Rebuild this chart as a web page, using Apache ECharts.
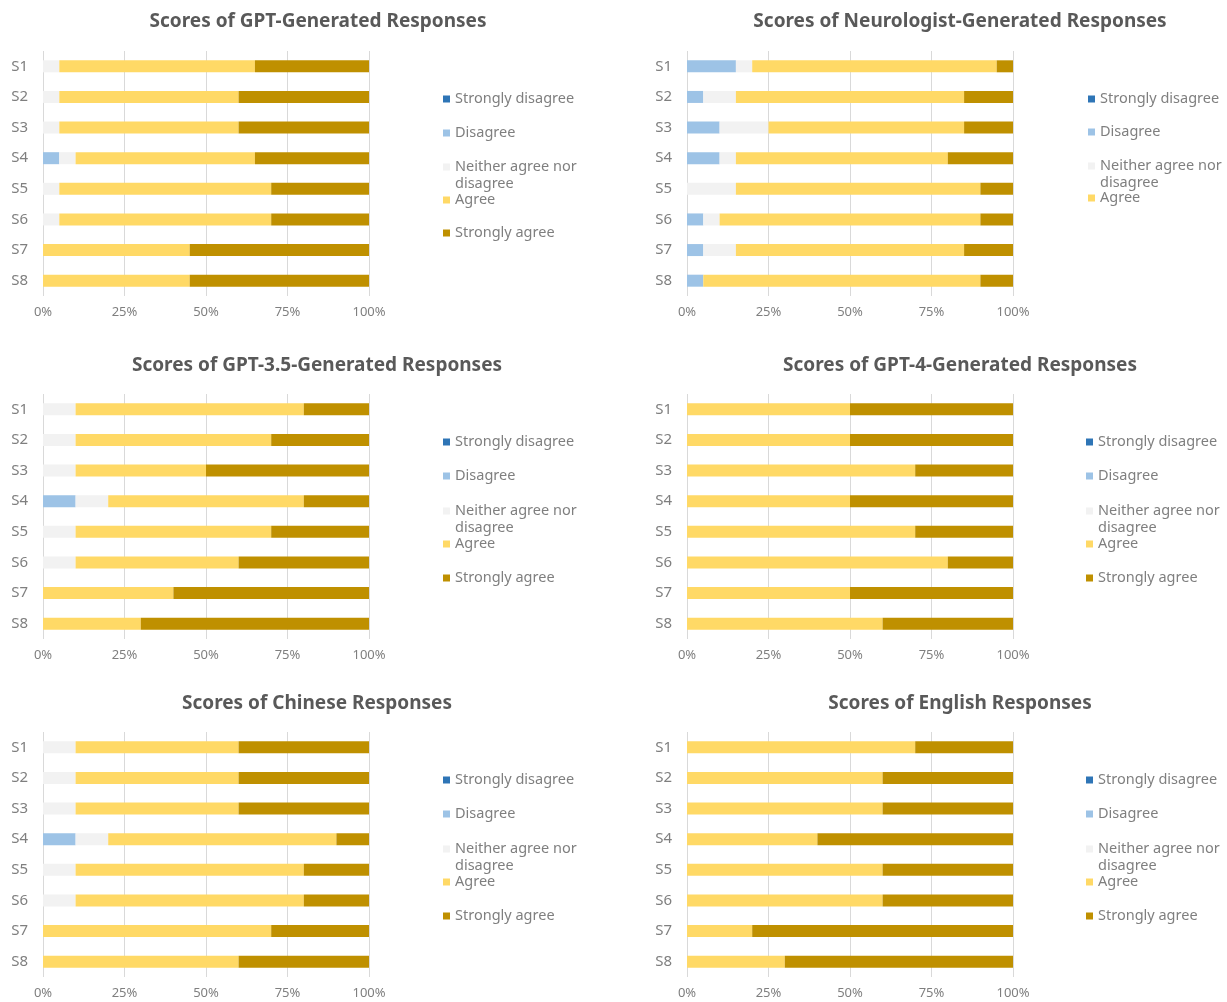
<!DOCTYPE html>
<html><head><meta charset="utf-8">
<script src="https://cdn.jsdelivr.net/npm/echarts@6/dist/echarts.min.js"></script>
<style>html,body{margin:0;padding:0;background:#fff}#c{width:1227px;height:1002px}</style>
</head><body><div id="c"></div>
<script>
const categories = ['S1','S2','S3','S4','S5','S6','S7','S8'];
const seriesNames = ['Strongly disagree','Disagree','Neither agree nor disagree','Agree','Strongly agree'];
const xTicks = [0,25,50,75,100];
const titles = ['Scores of GPT-Generated Responses','Scores of Neurologist-Generated Responses','Scores of GPT-3.5-Generated Responses','Scores of GPT-4-Generated Responses','Scores of Chinese Responses','Scores of English Responses'];

// GPT-Generated
const gptSD = [0,0,0,0,0,0,0,0];
const gptD  = [0,0,0,5,0,0,0,0];
const gptN  = [5,5,5,5,5,5,0,0];
const gptA  = [60,55,55,55,65,65,45,45];
const gptSA = [35,40,40,35,30,30,55,55];
// Neurologist-Generated
const neuSD = [0,0,0,0,0,0,0,0];
const neuD  = [15,5,10,10,0,5,5,5];
const neuN  = [5,10,15,5,15,5,10,0];
const neuA  = [75,70,60,65,75,80,70,85];
const neuSA = [5,15,15,20,10,10,15,10];
// GPT-3.5
const g35SD = [0,0,0,0,0,0,0,0];
const g35D  = [0,0,0,10,0,0,0,0];
const g35N  = [10,10,10,10,10,10,0,0];
const g35A  = [70,60,40,60,60,50,40,30];
const g35SA = [20,30,50,20,30,40,60,70];
// GPT-4
const g4SD = [0,0,0,0,0,0,0,0];
const g4D  = [0,0,0,0,0,0,0,0];
const g4N  = [0,0,0,0,0,0,0,0];
const g4A  = [50,50,70,50,70,80,50,60];
const g4SA = [50,50,30,50,30,20,50,40];
// Chinese
const zhSD = [0,0,0,0,0,0,0,0];
const zhD  = [0,0,0,10,0,0,0,0];
const zhN  = [10,10,10,10,10,10,0,0];
const zhA  = [50,50,50,70,70,70,70,60];
const zhSA = [40,40,40,10,20,20,30,40];
// English
const enSD = [0,0,0,0,0,0,0,0];
const enD  = [0,0,0,0,0,0,0,0];
const enN  = [0,0,0,0,0,0,0,0];
const enA  = [70,60,60,40,60,60,20,30];
const enSA = [30,40,40,60,40,40,80,70];

const panelData = [
  [gptSD,gptD,gptN,gptA,gptSA],
  [neuSD,neuD,neuN,neuA,neuSA],
  [g35SD,g35D,g35N,g35A,g35SA],
  [g4SD,g4D,g4N,g4A,g4SA],
  [zhSD,zhD,zhN,zhA,zhSA],
  [enSD,enD,enN,enA,enSA]
];

const colors = ['#2E75B6','#9DC3E6','#F2F2F2','#FFD966','#BF9000'];
const FONT = 'Noto Sans';
const TITLE_C = '#595959';
const TXT = '#7F7F7F';

// layout
const layout = [
  {cx:318, ty:20,  gl:43,  gt:51,  lx:443,  ly:[98,132,165,199,232], items:5},
  {cx:960, ty:20,  gl:687, gt:51,  lx:1088, ly:[98,131,164,197], items:4},
  {cx:317, ty:364, gl:43,  gt:394, lx:443,  ly:[441,475,509,543,577], items:5},
  {cx:960, ty:364, gl:687, gt:394, lx:1086, ly:[441,475,509,543,577], items:5},
  {cx:317, ty:702, gl:43,  gt:732, lx:443,  ly:[779,813,847,881,915], items:5},
  {cx:960, ty:702, gl:687, gt:732, lx:1086, ly:[779,813,847,881,915], items:5}
];

// tall icon: 7x7 square at top of a 7x24 box, so it lines up with the first text line
const TALL_ICON = 'path://M0,0H7V7H0Z M0,24H0.001V24.001H0Z';

const option = {animation:false, backgroundColor:'#fff', color:colors,
  title:[], grid:[], xAxis:[], yAxis:[], series:[], legend:[]};

layout.forEach((p,i)=>{
  option.title.push({text:titles[i], left:p.cx, top:p.ty-8, textAlign:'center', padding:0,
    textStyle:{fontFamily:FONT, fontSize:19, fontWeight:'bold', color:TITLE_C}});
  option.grid.push({left:p.gl, top:p.gt, width:326, height:245, containLabel:false});
  option.xAxis.push({type:'value', gridIndex:i, min:0, max:100, interval:25,
    axisLine:{show:false}, axisTick:{show:false},
    axisLabel:{formatter:'{value}%', color:TXT, fontFamily:FONT, fontSize:13, margin:10},
    splitLine:{show:true, lineStyle:{color:'#D9D9D9', width:1}}});
  option.yAxis.push({type:'category', gridIndex:i, data:categories, inverse:true,
    axisLine:{show:false}, axisTick:{show:false},
    axisLabel:{color:TXT, fontFamily:FONT, fontSize:15, margin:15}});
  panelData[i].forEach((arr,k)=>{
    option.series.push({type:'bar', name:seriesNames[k], xAxisIndex:i, yAxisIndex:i,
      stack:'p'+i, data:arr, barWidth:12, itemStyle:{color:colors[k]}});
  });
  for(let k=0;k<p.items;k++){
    const neither = k===2;
    option.legend.push({orient:'vertical', left:p.lx, top:p.ly[k] - (neither ? 6.5 : 7.5),
      padding:0, itemWidth:7, itemHeight: neither ? 24 : 7, icon: neither ? TALL_ICON : 'rect',
      selectedMode:false,
      data:[{name:seriesNames[k], itemStyle:{color:colors[k]}}],
      formatter: neither ? 'Neither agree nor\ndisagree' : '{name}',
      textStyle:{fontFamily:FONT, fontSize:14.5, color:TXT, lineHeight:17}});
  }
});

const chart = echarts.init(document.getElementById('c'), null, {renderer:'canvas'});
chart.setOption(option);
</script></body></html>
